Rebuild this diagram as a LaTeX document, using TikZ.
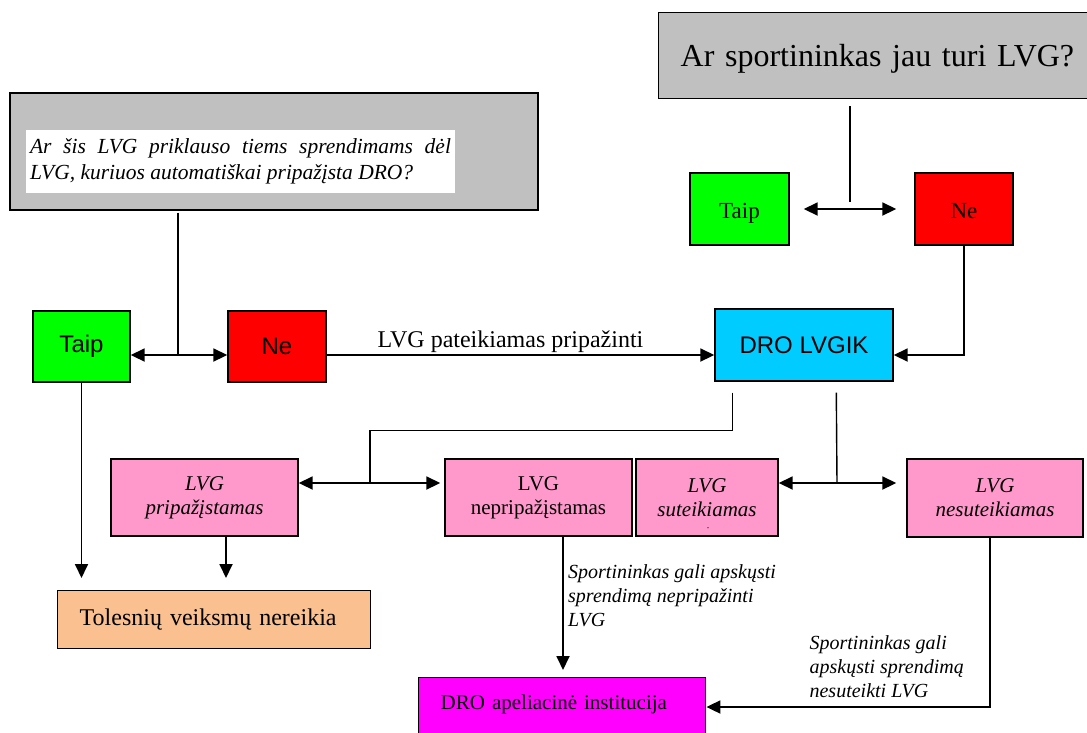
\documentclass[tikz,border=0pt]{standalone}
\usepackage{fontspec}
\setmainfont{Liberation Serif}
\setsansfont{Liberation Sans}
\usetikzlibrary{arrows.meta,calc}
\definecolor{qgray}{HTML}{C0C0C0}
\definecolor{ygreen}{HTML}{00FF00}
\definecolor{nred}{HTML}{FF0000}
\definecolor{dcyan}{HTML}{00CCFF}
\definecolor{lpink}{HTML}{FF99CC}
\definecolor{torange}{HTML}{FAC090}
\definecolor{amag}{HTML}{FF00FF}
\begin{document}
\begin{tikzpicture}[x=1pt,y=-1pt,
  box/.style={draw=black, line width=1.4pt, inner sep=0pt, align=center},
  arr/.style={line width=1.8pt, -{Triangle[length=14pt,width=13pt]}},
  darr/.style={line width=1.8pt, {Triangle[length=14pt,width=13pt]}-{Triangle[length=14pt,width=13pt]}},
  ln/.style={line width=1.4pt},
  sans/.style={font=\sffamily\fontsize{24}{28}\selectfont},
  small/.style={font=\fontsize{23}{27}\selectfont, text height=18pt, text depth=0pt},
  pinkit/.style={box, fill=lpink, minimum height=77pt, font=\itshape\fontsize{21}{24}\selectfont},
  note/.style={anchor=north west, align=left, inner sep=0pt, font=\itshape\fontsize{20}{24}\selectfont}]
\path[use as bounding box] (0,0) rectangle (1087,732);
\clip (0,0) rectangle (1087,732);

% top right question
\node[box, fill=qgray, anchor=north west, minimum height=86pt, text width=440pt,
      inner xsep=22pt, align=left, text depth=0pt, font=\fontsize{32}{38}\selectfont]
      (q1) at (658,12) {Ar sportininkas jau turi LVG?};
\node[box, fill=ygreen, minimum width=99pt, minimum height=72pt, small] (t1) at (739.5,209) {Taip};
\node[box, fill=nred, minimum width=98pt, minimum height=72pt, small] (n1) at (964,209) {Ne};
\coordinate (j1) at (850,210);
\draw[ln] ([yshift=-7pt]q1.south -| j1) -- ([yshift=8pt]j1);
\draw[darr, shorten <=14pt, shorten >=18pt] (t1.east) -- (n1.west);

% left question
\node[box, fill=qgray, minimum width=528pt, minimum height=117pt] (q2) at (274,151.5) {};
\node[fill=white, inner xsep=4pt, inner ysep=0pt, minimum height=63pt, text width=421pt,
      align=justify, font=\itshape\fontsize{21.5}{26}\selectfont]
      (qt) at (240.5,161.5) {Ar šis LVG priklauso tiems sprendimams dėl\linebreak LVG, kuriuos automatiškai pripažįsta DRO?};
\node[box, fill=ygreen, minimum width=97pt, minimum height=71pt, sans] (t2) at (81.5,346.5) {Taip};
\node[box, fill=nred, minimum width=98pt, minimum height=71pt, sans] (n2) at (277,346.5) {Ne};
\node[box, fill=dcyan, minimum width=178pt, minimum height=72pt, sans] (dro) at (804,345) {DRO LVGIK};
\coordinate (j2) at (178,355);
\draw[ln] ([yshift=-2pt]q2.south -| j2) -- (j2);
\draw[darr] (j2 -| t2.east) -- (j2 -| n2.west);
\draw[arr] (j2 -| n2.east) -- (j2 -| dro.west)
   node[midway, above=0pt, inner sep=1pt, xshift=-10pt, font=\fontsize{24}{28}\selectfont] {LVG pateikiamas pripažinti};
\draw[arr] (n1.south) |- ([yshift=-10pt]dro.east);

% second row
\node[pinkit, minimum width=187pt] (pr) at (204.5,497.5) {LVG\\pripažįstamas};
\node[pinkit, minimum width=187pt, font=\fontsize{21}{24}\selectfont] (np) at (538.5,497.5) {LVG\\nepripažįstamas};
\node[pinkit, minimum width=142pt] (su) at (707,497.5) {LVG\\suteikiamas};
\node[pinkit, minimum width=176pt, minimum height=78pt] (ns) at (995,498) {LVG\\nesuteikiamas};
\fill ([xshift=1pt,yshift=9pt]su.south) circle (0.7pt);

\coordinate (j3) at (370,483);
\draw[ln] ([xshift=18pt,yshift=-11pt]dro.south west) -- ++(0,38) -| (j3);
\draw[darr, shorten >=4pt] (j3 -| pr.east) -- (j3 -| np.west);
\coordinate (j4) at (837,483);
\draw[ln] ([xshift=122pt,yshift=-11pt]dro.south west) -- (j4);
\draw[darr, shorten >=10pt] (j4 -| su.east) -- (j4 -| ns.west);

% bottom
\node[box, fill=torange, anchor=north west, minimum height=58pt, text width=269pt,
      inner xsep=22pt, align=left, font=\fontsize{24}{28}\selectfont] (tol) at (57,590) {Tolesnių veiksmų nereikia};
\node[box, fill=amag, anchor=north west, text width=243pt, inner xsep=22pt, inner ysep=0pt,
      align=left, text height=32pt, text depth=60pt, font=\fontsize{21}{25}\selectfont]
      (apl) at (418,677) {DRO apeliacinė institucija};

\draw[arr, shorten >=12pt] (t2.south) -- (t2.south |- tol.north);
\coordinate (a1) at ([xshift=21.5pt]pr.south);
\draw[arr, shorten >=12pt] (a1) -- (a1 |- tol.north);
\coordinate (a2) at ([xshift=24.5pt]np.south);
\draw[arr, shorten >=7pt] (a2) -- (a2 |- apl.north);
\node[note] (l1) at ([xshift=5pt,yshift=-28pt]a2) {Sportininkas gali apskųsti\\sprendimą nepripažinti\\LVG};
\coordinate (a3) at ([xshift=-5pt]ns.south);
\draw[arr] (a3) |- ([yshift=-30pt]apl.north east);
\node[note] (l2) at ([xshift=103pt,yshift=42pt]apl.north east) {Sportininkas gali\\apskųsti sprendimą\\nesuteikti LVG};
\end{tikzpicture}
\end{document}
